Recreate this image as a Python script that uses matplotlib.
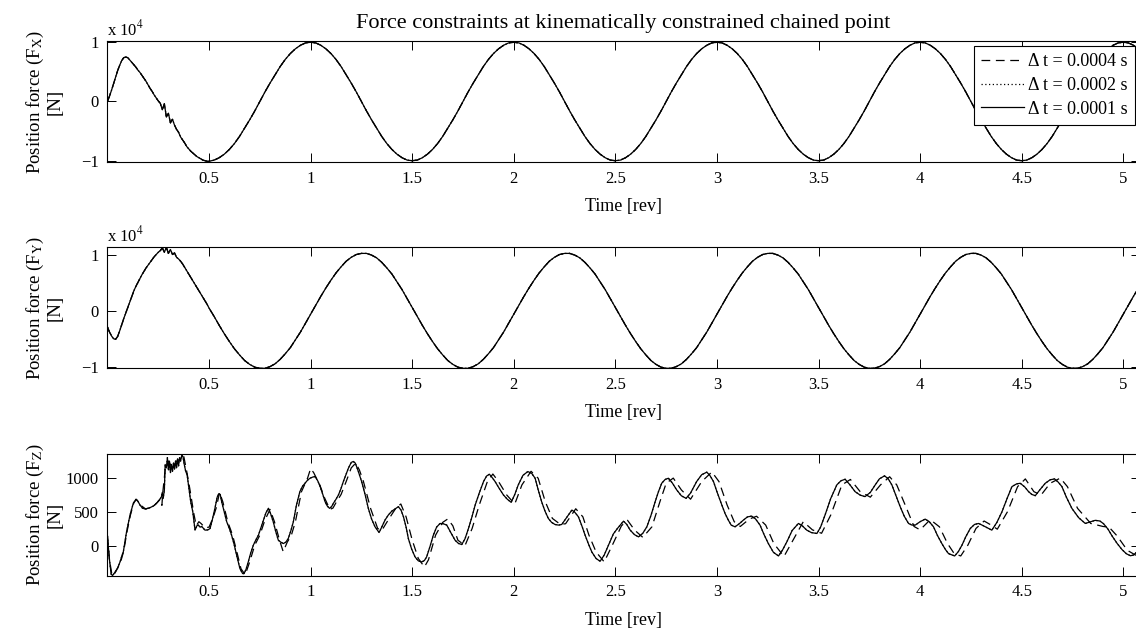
import numpy as np
import matplotlib
matplotlib.use("Agg")
import matplotlib.pyplot as plt

# ---------------- data ----------------
title_text = "Force constraints at kinematically constrained chained point"
series_labels = ["\u0394 t = 0.0004 s", "\u0394 t = 0.0002 s", "\u0394 t = 0.0001 s"]
ylabels = ["Position force (F$_\\mathrm{X}$)\n[N]",
           "Position force (F$_\\mathrm{Y}$)\n[N]",
           "Position force (F$_\\mathrm{Z}$)\n[N]"]
xlabel_text = "Time [rev]"
xtick_vals = [0.5, 1, 1.5, 2, 2.5, 3, 3.5, 4, 4.5, 5]
xtick_labels = ["0.5", "1", "1.5", "2", "2.5", "3", "3.5", "4", "4.5", "5"]
ytick_vals_xy = [-1, 0, 1]
ytick_labels_xy = ["\u22121", "0", "1"]
ytick_vals_z = [0, 500, 1000]
ytick_labels_z = ["0", "500", "1000"]

# time grids [rev]
t_start = np.round(np.arange(0, 51) * 0.01, 3)          # 0.00 .. 0.50
t_cycle = np.round(np.arange(21, 204) * 0.025, 3)       # 0.525 .. 5.075

# Fx  (units of 1e4 N)
fx_start = [0.00, 0.09, 0.19, 0.30, 0.41, 0.52, 0.61, 0.69, 0.74, 0.75,
            0.74, 0.70, 0.66, 0.62, 0.58, 0.53, 0.49, 0.44, 0.39, 0.34,
            0.28, 0.22, 0.17, 0.11, 0.06, 0.01, -0.03, -0.14, -0.04, -0.26,
            -0.20, -0.36, -0.30, -0.40, -0.47, -0.52, -0.60, -0.65, -0.70, -0.76,
            -0.80, -0.84, -0.87, -0.90, -0.93, -0.95, -0.97, -0.99, -1.00, -1.01,
            -1.01]
fx_cycle = [
    -0.99, -0.95, -0.89, -0.81, -0.71, -0.59, -0.45, -0.31, -0.16, 0.00,
    0.16, 0.31, 0.45, 0.59, 0.71, 0.81, 0.89, 0.95, 0.99, 1.00,
    0.99, 0.95, 0.89, 0.81, 0.71, 0.59, 0.45, 0.31, 0.16, 0.00,
    -0.16, -0.31, -0.45, -0.59, -0.71, -0.81, -0.89, -0.95, -0.99, -1.00,
    -0.99, -0.95, -0.89, -0.81, -0.71, -0.59, -0.45, -0.31, -0.16, 0.00,
    0.16, 0.31, 0.45, 0.59, 0.71, 0.81, 0.89, 0.95, 0.99, 1.00,
    0.99, 0.95, 0.89, 0.81, 0.71, 0.59, 0.45, 0.31, 0.16, 0.00,
    -0.16, -0.31, -0.45, -0.59, -0.71, -0.81, -0.89, -0.95, -0.99, -1.00,
    -0.99, -0.95, -0.89, -0.81, -0.71, -0.59, -0.45, -0.31, -0.16, 0.00,
    0.16, 0.31, 0.45, 0.59, 0.71, 0.81, 0.89, 0.95, 0.99, 1.00,
    0.99, 0.95, 0.89, 0.81, 0.71, 0.59, 0.45, 0.31, 0.16, 0.00,
    -0.16, -0.31, -0.45, -0.59, -0.71, -0.81, -0.89, -0.95, -0.99, -1.00,
    -0.99, -0.95, -0.89, -0.81, -0.71, -0.59, -0.45, -0.31, -0.16, 0.00,
    0.16, 0.31, 0.45, 0.59, 0.71, 0.81, 0.89, 0.95, 0.99, 1.00,
    0.99, 0.95, 0.89, 0.81, 0.71, 0.59, 0.45, 0.31, 0.16, 0.00,
    -0.16, -0.31, -0.45, -0.59, -0.71, -0.81, -0.89, -0.95, -0.99, -1.00,
    -0.99, -0.95, -0.89, -0.81, -0.71, -0.59, -0.45, -0.31, -0.16, 0.00,
    0.16, 0.31, 0.45, 0.59, 0.71, 0.81, 0.89, 0.95, 0.99, 1.00,
    0.99, 0.95, 0.89]

# Fy  (units of 1e4 N)
fy_start = [-0.29, -0.38, -0.45, -0.50, -0.51, -0.46, -0.36, -0.25, -0.14, -0.04,
            0.06, 0.16, 0.26, 0.36, 0.44, 0.51, 0.58, 0.65, 0.71, 0.77,
            0.82, 0.87, 0.92, 0.97, 1.01, 1.05, 1.08, 1.13, 1.05, 1.14,
            1.03, 1.10, 1.01, 1.04, 0.96, 0.93, 0.89, 0.84, 0.78, 0.72,
            0.66, 0.60, 0.54, 0.48, 0.42, 0.36, 0.30, 0.24, 0.18, 0.12,
            0.05]
fy_cycle = [
    -0.10, -0.26, -0.41, -0.55, -0.68, -0.79, -0.89, -0.96, -1.01, -1.03,
    -1.03, -1.00, -0.95, -0.87, -0.77, -0.66, -0.52, -0.38, -0.22, -0.06,
    0.10, 0.26, 0.41, 0.55, 0.68, 0.79, 0.89, 0.96, 1.01, 1.03,
    1.03, 1.00, 0.95, 0.87, 0.77, 0.66, 0.52, 0.38, 0.22, 0.06,
    -0.10, -0.26, -0.41, -0.55, -0.68, -0.79, -0.89, -0.96, -1.01, -1.03,
    -1.03, -1.00, -0.95, -0.87, -0.77, -0.66, -0.52, -0.38, -0.22, -0.06,
    0.10, 0.26, 0.41, 0.55, 0.68, 0.79, 0.89, 0.96, 1.01, 1.03,
    1.03, 1.00, 0.95, 0.87, 0.77, 0.66, 0.52, 0.38, 0.22, 0.06,
    -0.10, -0.26, -0.41, -0.55, -0.68, -0.79, -0.89, -0.96, -1.01, -1.03,
    -1.03, -1.00, -0.95, -0.87, -0.77, -0.66, -0.52, -0.38, -0.22, -0.06,
    0.10, 0.26, 0.41, 0.55, 0.68, 0.79, 0.89, 0.96, 1.01, 1.03,
    1.03, 1.00, 0.95, 0.87, 0.77, 0.66, 0.52, 0.38, 0.22, 0.06,
    -0.10, -0.26, -0.41, -0.55, -0.68, -0.79, -0.89, -0.96, -1.01, -1.03,
    -1.03, -1.00, -0.95, -0.87, -0.77, -0.66, -0.52, -0.38, -0.22, -0.06,
    0.10, 0.26, 0.41, 0.55, 0.68, 0.79, 0.89, 0.96, 1.01, 1.03,
    1.03, 1.00, 0.95, 0.87, 0.77, 0.66, 0.52, 0.38, 0.22, 0.06,
    -0.10, -0.26, -0.41, -0.55, -0.68, -0.79, -0.89, -0.96, -1.01, -1.03,
    -1.03, -1.00, -0.95, -0.87, -0.77, -0.66, -0.52, -0.38, -0.22, -0.06,
    0.10, 0.26, 0.41]

# Fz [N], dt = 0.0001 s (solid; the 0.0002 s run coincides with it)
fz_t_fine = [
    0.000, 0.008, 0.018, 0.025, 0.035, 0.050, 0.062, 0.072, 0.078, 0.094,
    0.111, 0.127, 0.140, 0.150, 0.160, 0.172, 0.185, 0.205, 0.226, 0.245,
    0.258, 0.265, 0.270, 0.274, 0.280, 0.284, 0.290, 0.295, 0.300, 0.305,
    0.310, 0.315, 0.320, 0.325, 0.330, 0.335, 0.340, 0.345, 0.350, 0.355,
    0.360, 0.366, 0.372, 0.378, 0.385, 0.392, 0.400, 0.410, 0.420, 0.431,
    0.440, 0.447, 0.456, 0.464, 0.480, 0.495, 0.505, 0.517, 0.529, 0.540,
    0.548, 0.555, 0.562, 0.575, 0.587, 0.600, 0.611, 0.624, 0.636, 0.652,
    0.665, 0.672, 0.682, 0.693, 0.705, 0.718, 0.730, 0.743, 0.755, 0.767,
    0.780, 0.792, 0.804, 0.816, 0.828, 0.841, 0.853, 0.866, 0.878, 0.890,
    0.903, 0.915, 0.930, 0.947, 0.960, 0.972, 0.985, 0.997, 1.010, 1.022,
    1.035, 1.047, 1.060, 1.071, 1.082, 1.093, 1.103, 1.112, 1.125, 1.137,
    1.150, 1.161, 1.175, 1.186, 1.200, 1.210, 1.220, 1.235, 1.251, 1.268,
    1.284, 1.300, 1.317, 1.337, 1.350, 1.366, 1.383, 1.400, 1.417, 1.432,
    1.445, 1.457, 1.470, 1.481, 1.497, 1.514, 1.530, 1.547, 1.560, 1.571,
    1.588, 1.604, 1.620, 1.637, 1.653, 1.670, 1.690, 1.711, 1.728, 1.744,
    1.760, 1.777, 1.794, 1.810, 1.830, 1.851, 1.866, 1.880, 1.893, 1.908,
    1.928, 1.949, 1.968, 1.987, 2.005, 2.022, 2.045, 2.069, 2.088, 2.105,
    2.120, 2.137, 2.153, 2.170, 2.186, 2.203, 2.220, 2.236, 2.260, 2.286,
    2.300, 2.318, 2.335, 2.351, 2.368, 2.384, 2.405, 2.425, 2.445, 2.466,
    2.490, 2.510, 2.540, 2.556, 2.573, 2.594, 2.614, 2.635, 2.655, 2.675,
    2.696, 2.712, 2.728, 2.745, 2.761, 2.780, 2.802, 2.825, 2.848, 2.870,
    2.900, 2.925, 2.950, 2.965, 2.983, 3.000, 3.024, 3.040, 3.056, 3.070,
    3.089, 3.110, 3.130, 3.150, 3.171, 3.190, 3.212, 3.232, 3.253, 3.278,
    3.303, 3.322, 3.344, 3.370, 3.401, 3.420, 3.442, 3.465, 3.492, 3.510,
    3.532, 3.560, 3.590, 3.610, 3.631, 3.655, 3.680, 3.705, 3.729, 3.755,
    3.779, 3.800, 3.825, 3.843, 3.861, 3.880, 3.902, 3.922, 3.943, 3.960,
    3.976, 4.000, 4.025, 4.045, 4.066, 4.085, 4.107, 4.125, 4.140, 4.170,
    4.188, 4.206, 4.225, 4.247, 4.268, 4.288, 4.305, 4.321, 4.353, 4.378,
    4.403, 4.428, 4.452, 4.475, 4.493, 4.515, 4.534, 4.550, 4.567, 4.590,
    4.616, 4.640, 4.662, 4.680, 4.698, 4.720, 4.747, 4.780, 4.813, 4.840,
    4.862, 4.885, 4.903, 4.925, 4.945, 4.970, 4.994, 5.015, 5.035, 5.050,
    5.065, 5.080]
fz_fine = [
    150, -150, -410, -430, -390, -320, -230, -130, -84, 211,
    457, 630, 688, 660, 605, 560, 546, 560, 590, 640,
    693, 720, 790, 700, 820, 1200, 1150, 1300, 1120, 1250,
    1080, 1200, 1100, 1220, 1130, 1250, 1150, 1280, 1180, 1300,
    1250, 1340, 1310, 1200, 1100, 1050, 870, 650, 506, 236,
    300, 310, 280, 290, 236, 240, 260, 400, 556, 720,
    770, 760, 655, 500, 359, 260, 162, 20, -133, -329,
    -400, -403, -340, -231, -100, 15, 90, 162, 270, 383,
    490, 556, 470, 359, 220, 88, 60, 39, 60, 113,
    230, 359, 600, 801, 880, 924, 970, 998, 1015, 1023,
    960, 875, 760, 654, 590, 556, 580, 630, 690, 753,
    850, 949, 1060, 1146, 1230, 1244, 1220, 1096, 950, 760,
    556, 400, 285, 201, 280, 383, 460, 516, 550, 580,
    530, 432, 280, 113, -40, -157, -215, -231, -210, -157,
    0, 162, 280, 334, 330, 310, 200, 88, 40, 25,
    110, 261, 430, 605, 780, 949, 1030, 1057, 1010, 949,
    850, 753, 690, 644, 760, 900, 1040, 1096, 1070, 998,
    830, 654, 520, 408, 350, 319, 310, 319, 420, 531,
    500, 432, 300, 162, 30, -84, -180, -221, -130, 15,
    180, 260, 368, 320, 236, 170, 137, 190, 285, 450,
    654, 800, 924, 980, 998, 930, 826, 740, 703, 780,
    949, 1050, 1087, 1040, 949, 800, 605, 480, 383, 310,
    285, 330, 383, 430, 442, 400, 310, 170, 39, -90,
    -143, -60, 64, 230, 334, 300, 236, 200, 187, 280,
    457, 700, 900, 960, 983, 900, 801, 750, 728, 790,
    900, 990, 1033, 990, 900, 750, 580, 440, 334, 310,
    310, 360, 398, 360, 285, 160, 39, -50, -109, -143,
    -80, 15, 140, 261, 320, 334, 310, 285, 236, 350,
    506, 700, 875, 915, 924, 870, 801, 760, 742, 830,
    924, 975, 988, 940, 875, 720, 556, 420, 334, 360,
    380, 370, 330, 250, 150, 40, -50, -110, -140, -130,
    -90, -50]

# Fz [N], dt = 0.0004 s (dashed)
fz_t_coarse = [
    0.000, 0.010, 0.022, 0.030, 0.045, 0.065, 0.080, 0.096, 0.113, 0.130,
    0.143, 0.162, 0.188, 0.228, 0.260, 0.268, 0.272, 0.285, 0.300, 0.320,
    0.340, 0.360, 0.375, 0.390, 0.405, 0.425, 0.437, 0.450, 0.462, 0.480,
    0.500, 0.520, 0.535, 0.552, 0.568, 0.592, 0.616, 0.641, 0.657, 0.678,
    0.700, 0.725, 0.750, 0.775, 0.800, 0.822, 0.847, 0.865, 0.885, 0.905,
    0.925, 0.955, 0.985, 1.000, 1.015, 1.045, 1.070, 1.095, 1.110, 1.125,
    1.150, 1.175, 1.200, 1.222, 1.240, 1.260, 1.295, 1.330, 1.350, 1.385,
    1.420, 1.444, 1.470, 1.500, 1.530, 1.560, 1.580, 1.615, 1.650, 1.675,
    1.700, 1.725, 1.760, 1.795, 1.830, 1.870, 1.897, 1.925, 1.965, 2.005,
    2.040, 2.085, 2.120, 2.155, 2.190, 2.230, 2.255, 2.305, 2.340, 2.370,
    2.405, 2.445, 2.485, 2.530, 2.560, 2.595, 2.635, 2.680, 2.720, 2.750,
    2.785, 2.825, 2.870, 2.925, 2.975, 3.010, 3.050, 3.085, 3.115, 3.160,
    3.195, 3.240, 3.280, 3.330, 3.370, 3.425, 3.470, 3.515, 3.560, 3.615,
    3.657, 3.705, 3.755, 3.805, 3.850, 3.885, 3.930, 3.970, 4.000, 4.050,
    4.095, 4.135, 4.168, 4.200, 4.235, 4.275, 4.315, 4.350, 4.380, 4.430,
    4.480, 4.518, 4.560, 4.595, 4.640, 4.690, 4.725, 4.775, 4.840, 4.900,
    4.930, 4.970, 5.020, 5.060, 5.080]
fz_coarse = [
    150, -200, -420, -430, -350, -230, -70, 211, 457, 640,
    688, 605, 546, 590, 690, 600, 780, 1150, 1250, 1150,
    1250, 1280, 1330, 1100, 850, 480, 300, 360, 330, 270,
    280, 420, 560, 790, 650, 359, 162, -133, -329, -420,
    -231, 15, 162, 383, 540, 359, 88, -80, 60, 160,
    359, 801, 1000, 1140, 1080, 900, 700, 540, 560, 640,
    760, 950, 1150, 1220, 1120, 950, 556, 260, 230, 400,
    560, 620, 430, 90, -180, -305, -200, 162, 350, 400,
    300, 88, 10, 261, 605, 949, 1060, 949, 753, 620,
    900, 1100, 998, 654, 408, 319, 330, 550, 432, 162,
    -84, -230, 15, 300, 380, 236, 130, 285, 660, 924,
    1000, 826, 690, 949, 1090, 949, 605, 360, 290, 400,
    440, 310, 39, -150, 64, 360, 240, 190, 457, 900,
    980, 801, 720, 900, 1020, 900, 580, 290, 240, 390,
    285, 39, -109, -143, 15, 261, 370, 310, 250, 506,
    875, 988, 801, 750, 924, 1000, 875, 556, 334, 290,
    280, 150, -60, -130, -110]

# ---------------- figure ----------------
plt.rcParams['font.family'] = ['Liberation Serif', 'DejaVu Serif']
plt.rcParams['mathtext.fontset'] = 'stix'

fig = plt.figure(figsize=(11.36, 6.30), dpi=100)
L, W, H = 0.0946, 0.9085, 0.1930
bottoms = [0.7424, 0.4154, 0.0865]
axs = [fig.add_axes([L, b, W, H]) for b in bottoms]

lw = 0.9
dash_style = (0, (7, 4.5))
dot_style = (0, (1, 2))

t_fx = np.concatenate([t_start, t_cycle])
fx = np.concatenate([fx_start, fx_cycle])
fy = np.concatenate([fy_start, fy_cycle])

ax = axs[0]
h1, = ax.plot(t_fx, fx, color='k', lw=lw, ls=dash_style, label=series_labels[0])
h2, = ax.plot(t_fx, fx, color='k', lw=lw, ls=dot_style, label=series_labels[1])
h3, = ax.plot(t_fx, fx, color='k', lw=lw, ls='-', label=series_labels[2])

ax = axs[1]
ax.plot(t_fx, fy, color='k', lw=lw, ls=dash_style)
ax.plot(t_fx, fy, color='k', lw=lw, ls=dot_style)
ax.plot(t_fx, fy, color='k', lw=lw, ls='-')

ax = axs[2]
ax.plot(fz_t_coarse, fz_coarse, color='k', lw=lw, ls=dash_style)
ax.plot(fz_t_fine, fz_fine, color='k', lw=lw, ls=dot_style)
ax.plot(fz_t_fine, fz_fine, color='k', lw=lw, ls='-')

ylims = [(-1.027, 1.027), (-1.03, 1.15), (-430, 1355)]
for i, ax in enumerate(axs):
    ax.set_xlim(0, 5.08)
    ax.set_ylim(*ylims[i])
    ax.set_xticks(xtick_vals)
    ax.set_xticklabels(xtick_labels)
    if i < 2:
        ax.set_yticks(ytick_vals_xy)
        ax.set_yticklabels(ytick_labels_xy)
        ax.annotate('x 10$^{4}$', xy=(0, 1), xycoords='axes fraction',
                    xytext=(0, 4), textcoords='offset points',
                    ha='left', va='baseline', fontsize=12)
    else:
        ax.set_yticks(ytick_vals_z)
        ax.set_yticklabels(ytick_labels_z)
    ax.tick_params(direction='in', top=True, right=True, length=6.5,
                   width=0.7, labelsize=12, colors='k')
    ax.tick_params(axis='x', pad=6)
    ax.tick_params(axis='y', pad=6.5)
    for s in ax.spines.values():
        s.set_linewidth(0.8)
        s.set_color('k')
    ax.set_xlabel(xlabel_text, fontsize=13, labelpad=8.5)
    ax.set_ylabel(ylabels[i], fontsize=13.5, linespacing=1.05)
    ax.yaxis.set_label_coords(-0.042, 0.5)

axs[0].set_title(title_text, fontsize=16, pad=9.5)

leg = axs[0].legend(handles=[h1, h2, h3], loc='upper right',
                    bbox_to_anchor=(0.9956, 0.958), borderaxespad=0,
                    fontsize=13, frameon=True, fancybox=False, framealpha=1,
                    edgecolor='k', handlelength=2.35, handletextpad=0.25,
                    labelspacing=0.38, borderpad=0.4)
leg.get_frame().set_linewidth(0.8)

fig.savefig('out.png', dpi=100)
